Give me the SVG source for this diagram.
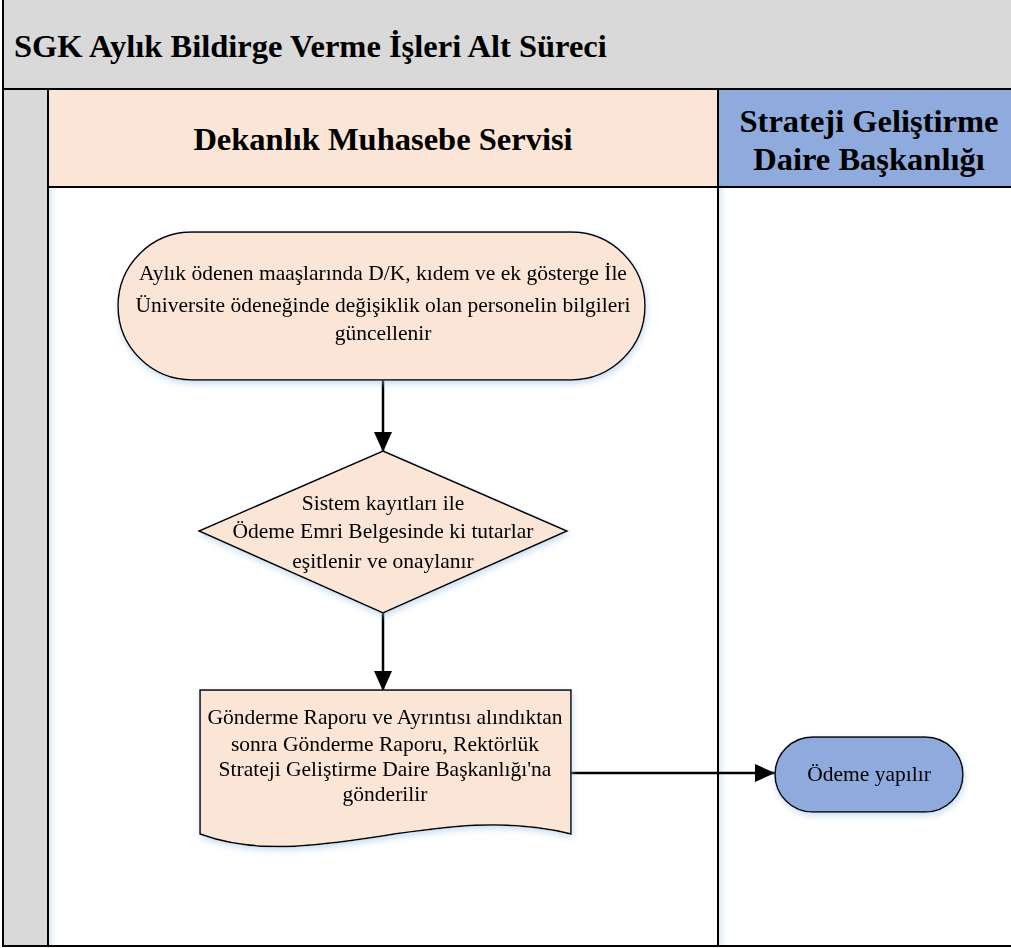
<svg xmlns="http://www.w3.org/2000/svg" width="1011" height="948" viewBox="0 0 1011 948">
  <style>
    .frame { stroke: #000; stroke-width: 2; }
    .shape { stroke: #000; stroke-width: 1.5; }
    .peach { fill: #fbe5d6; }
    .blue { fill: #8faadc; }
    .title { font-family: "Liberation Serif", "Times New Roman", serif; font-weight: bold; font-size: 32.5px; fill: #000; }
    .lbl { font-family: "Liberation Serif", "Times New Roman", serif; font-size: 21.5px; fill: #000; text-anchor: middle; }
    .conn { stroke: #000; stroke-width: 2.5; fill: none; }
  </style>
  <defs>
    <marker id="arrow" viewBox="0 0 20 18" refX="20" refY="9" markerWidth="20" markerHeight="18" markerUnits="userSpaceOnUse" orient="auto">
      <path d="M0,0 L20,9 L0,18 Z" fill="#000"/>
    </marker>
    <filter id="glow" x="-10%" y="-10%" width="120%" height="130%">
      <feDropShadow dx="1" dy="3" stdDeviation="3" flood-color="#9dc3e6" flood-opacity="0.55"/>
    </filter>
    <linearGradient id="laneEdge" x1="0" y1="0" x2="1" y2="0">
      <stop offset="0" stop-color="#dbe8f6"/>
      <stop offset="1" stop-color="#ffffff" stop-opacity="0"/>
    </linearGradient>
  </defs>

  <!-- pool and title band -->
  <g id="pool">
    <rect x="0" y="0" width="1011" height="948" fill="#ffffff"/>
    <rect x="3" y="-2" width="1012" height="91" fill="#d9d9d9" class="frame"/>
    <text class="title" x="14" y="57">SGK Aylık Bildirge Verme İşleri Alt Süreci</text>
    <rect x="3" y="89" width="45" height="857" fill="#d9d9d9" class="frame"/>
  </g>

  <!-- swimlanes -->
  <g id="lane-dekanlik">
    <rect x="48" y="187" width="670" height="759" fill="#ffffff" class="frame"/>
    <rect x="49" y="188" width="10" height="757" fill="url(#laneEdge)"/>
    <rect x="48" y="89" width="670" height="98" class="peach frame"/>
    <text class="title" x="383" y="150" text-anchor="middle">Dekanlık Muhasebe Servisi</text>
  </g>
  <g id="lane-strateji">
    <rect x="718" y="187" width="297" height="759" fill="#ffffff" class="frame"/>
    <rect x="719" y="188" width="10" height="757" fill="url(#laneEdge)"/>
    <rect x="718" y="89" width="297" height="98" class="blue frame"/>
    <text class="title" x="869" y="132" text-anchor="middle">Strateji Geliştirme</text>
    <text class="title" x="869" y="170" text-anchor="middle">Daire Başkanlığı</text>
  </g>

  <!-- connectors -->
  <g id="connectors">
    <line class="conn" x1="383" y1="380" x2="383" y2="452" marker-end="url(#arrow)"/>
    <line class="conn" x1="383" y1="613" x2="383" y2="691" marker-end="url(#arrow)"/>
    <line class="conn" x1="571" y1="773" x2="775" y2="773" marker-end="url(#arrow)"/>
  </g>

  <!-- start terminator -->
  <g id="node-guncelleme" filter="url(#glow)">
    <rect x="118" y="232" width="527" height="148" rx="74" ry="74" class="peach shape"/>
    <text class="lbl" x="383" y="280">Aylık ödenen maaşlarında D/K, kıdem ve ek gösterge İle</text>
    <text class="lbl" x="383" y="312">Üniversite ödeneğinde değişiklik olan personelin bilgileri</text>
    <text class="lbl" x="383" y="340">güncellenir</text>
  </g>

  <!-- decision -->
  <g id="node-esitleme" filter="url(#glow)">
    <polygon points="383,451 567,531 383,613 199,531" class="peach shape"/>
    <text class="lbl" x="383" y="510">Sistem kayıtları ile</text>
    <text class="lbl" x="383" y="538">Ödeme Emri Belgesinde ki tutarlar</text>
    <text class="lbl" x="383" y="568">eşitlenir ve onaylanır</text>
  </g>

  <!-- document -->
  <g id="node-gonderme" filter="url(#glow)">
    <path d="M200,690 L571,690 L571,834 C440,800 310,875 200,834 Z" class="peach shape"/>
    <text class="lbl" x="385" y="724">Gönderme Raporu ve Ayrıntısı alındıktan</text>
    <text class="lbl" x="385" y="751">sonra Gönderme Raporu, Rektörlük</text>
    <text class="lbl" x="385" y="776">Strateji Geliştirme Daire Başkanlığı'na</text>
    <text class="lbl" x="385" y="801">gönderilir</text>
  </g>

  <!-- end terminator -->
  <g id="node-odeme" filter="url(#glow)">
    <rect x="775" y="737" width="188" height="75" rx="37.5" ry="37.5" class="blue shape"/>
    <text class="lbl" x="869" y="781">Ödeme yapılır</text>
  </g>
</svg>
